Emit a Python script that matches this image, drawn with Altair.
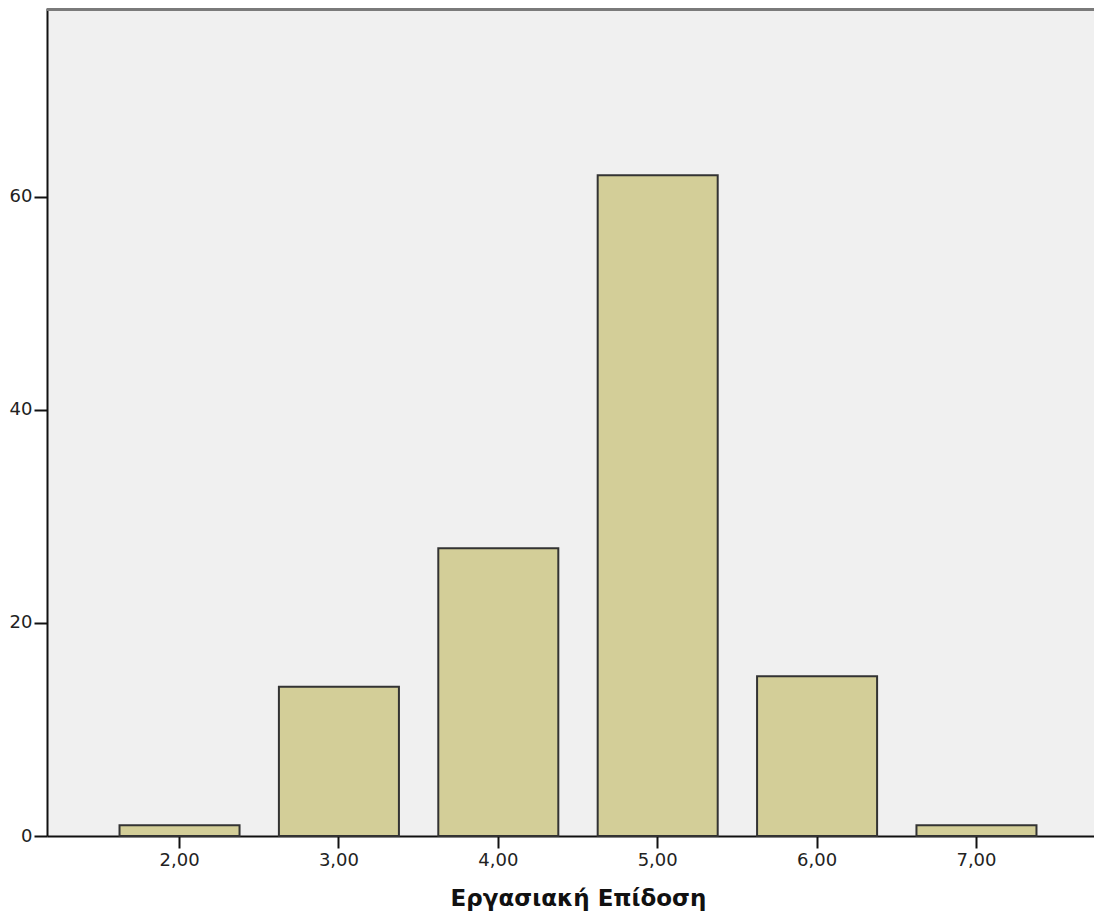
import altair as alt
import pandas as pd

categories = ["2,00", "3,00", "4,00", "5,00", "6,00", "7,00"]
counts = [1, 14, 27, 62, 15, 1]
y_ticks = [0, 20, 40, 60]
x_title = "Εργασιακή Επίδοση"

df = pd.DataFrame({"cat": categories, "count": counts})

base = alt.Chart(df)

bars = base.mark_bar(fill="#D3CE98", stroke="#333333", strokeWidth=2).encode(
    x=alt.X(
        "cat:N",
        sort=categories,
        title=x_title,
        scale=alt.Scale(range=[0, 1062], paddingInner=0.247, paddingOuter=0.455),
        axis=alt.Axis(
            labelAngle=0,
            labelFontSize=18,
            labelPadding=3,
            tickSize=12,
            titleFontSize=23,
            titleFontWeight="bold",
            titlePadding=18,
        ),
    ),
    y=alt.Y(
        "count:Q",
        title=None,
        scale=alt.Scale(domain=[0, 77.7], nice=False, zero=True),
        axis=alt.Axis(values=y_ticks, grid=False, labelFontSize=18, labelPadding=2, tickSize=13),
    ),
)

top_line = base.mark_rule(color="#7a7a7a", strokeWidth=3).encode(y=alt.value(1))

chart = (
    alt.layer(bars, top_line)
    .properties(
        width=1047,
        height=828,
        padding={"left": 39, "top": 0, "right": 0, "bottom": 78},
        autosize=alt.AutoSizeParams(type="none"),
    )
    .configure_view(fill="#F0F0F0", stroke=None)
    .configure_axis(
        domainColor="#111111",
        domainWidth=2,
        tickColor="#111111",
        tickWidth=2,
        labelColor="#222222",
        titleColor="#111111",
        labelFont="DejaVu Sans",
        titleFont="DejaVu Sans",
    )
)

chart.save("out.html", embed_options={"renderer": "svg", "actions": False})
